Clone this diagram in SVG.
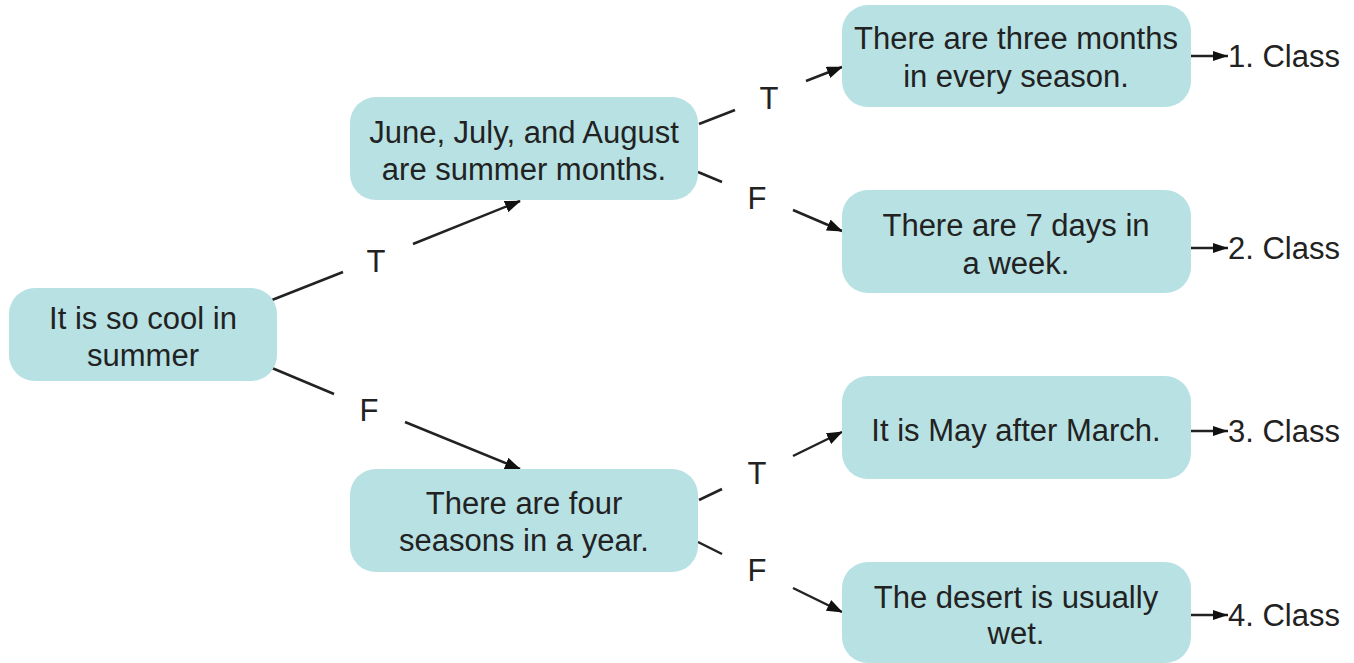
<svg xmlns="http://www.w3.org/2000/svg" width="1354" height="663" viewBox="0 0 1354 663">
<style>
.node rect{fill:#b7e1e3;}
text{font-family:"Liberation Sans",Arial,sans-serif;font-size:31px;fill:#222;dominant-baseline:central;}
.c text{text-anchor:middle;}
.edge{stroke:#222;stroke-width:2.5;fill:none;}
</style>
<defs>
<marker id="ah" markerUnits="userSpaceOnUse" markerWidth="16" markerHeight="12" refX="15" refY="6" orient="auto">
<path d="M0,0 L16,6 L0,12 z" fill="#111"/>
</marker>
<marker id="ah2" markerUnits="userSpaceOnUse" markerWidth="15" markerHeight="10" refX="15" refY="5" orient="auto">
<path d="M0,0 L15,5 L0,10 z" fill="#111"/>
</marker>
</defs>
<g id="connectors">
<line class="edge" x1="272" y1="300" x2="343" y2="272"/>
<line class="edge" x1="413" y1="244" x2="520" y2="201" marker-end="url(#ah)"/>
<line class="edge" x1="272" y1="368" x2="334" y2="394"/>
<line class="edge" x1="405" y1="422" x2="520" y2="469" marker-end="url(#ah)"/>
<line class="edge" x1="699" y1="124" x2="735" y2="110"/>
<line class="edge" x1="806" y1="81" x2="842" y2="67" marker-end="url(#ah)"/>
<line class="edge" x1="698" y1="172" x2="722" y2="182"/>
<line class="edge" x1="793" y1="210" x2="842" y2="231" marker-end="url(#ah)"/>
<line class="edge" x1="699" y1="500" x2="722" y2="489"/>
<line class="edge" x1="793" y1="456" x2="842" y2="432" marker-end="url(#ah)"/>
<line class="edge" x1="698" y1="542" x2="722" y2="554"/>
<line class="edge" x1="793" y1="588" x2="842" y2="612" marker-end="url(#ah)"/>
<line class="edge" x1="1191" y1="56" x2="1228" y2="56" marker-end="url(#ah2)"/>
<line class="edge" x1="1191" y1="248" x2="1228" y2="248" marker-end="url(#ah2)"/>
<line class="edge" x1="1191" y1="431" x2="1228" y2="431" marker-end="url(#ah2)"/>
<line class="edge" x1="1191" y1="615" x2="1228" y2="615" marker-end="url(#ah2)"/>
<g class="c">
<text x="376" y="261">T</text>
<text x="369" y="410">F</text>
<text x="769" y="98">T</text>
<text x="757" y="198">F</text>
<text x="757" y="473">T</text>
<text x="757" y="570">F</text>
</g>
</g>
<g id="root" class="node c">
<rect x="9" y="288" width="268" height="93" rx="26"/>
<text x="143" y="318">It is so cool in</text>
<text x="143" y="355">summer</text>
</g>
<g id="n1" class="node c">
<rect x="350" y="97" width="348" height="103" rx="26"/>
<text x="524" y="132">June, July, and August</text>
<text x="524" y="169">are summer months.</text>
</g>
<g id="n2" class="node c">
<rect x="350" y="469" width="348" height="103" rx="26"/>
<text x="524" y="503">There are four</text>
<text x="524" y="540">seasons in a year.</text>
</g>
<g id="l1" class="node c">
<rect x="842" y="5" width="349" height="102" rx="26"/>
<text x="1016" y="38">There are three months</text>
<text x="1016" y="76">in every season.</text>
</g>
<g id="l2" class="node c">
<rect x="842" y="190" width="349" height="103" rx="26"/>
<text x="1016" y="225">There are 7 days in</text>
<text x="1016" y="263">a week.</text>
</g>
<g id="l3" class="node c">
<rect x="842" y="376" width="349" height="103" rx="26"/>
<text x="1016" y="430">It is May after March.</text>
</g>
<g id="l4" class="node c">
<rect x="842" y="562" width="349" height="101" rx="26"/>
<text x="1016" y="597">The desert is usually</text>
<text x="1016" y="633">wet.</text>
</g>
<g id="classes">
<text x="1228" y="56">1. Class</text>
<text x="1228" y="248">2. Class</text>
<text x="1228" y="431">3. Class</text>
<text x="1228" y="615">4. Class</text>
</g>
</svg>
